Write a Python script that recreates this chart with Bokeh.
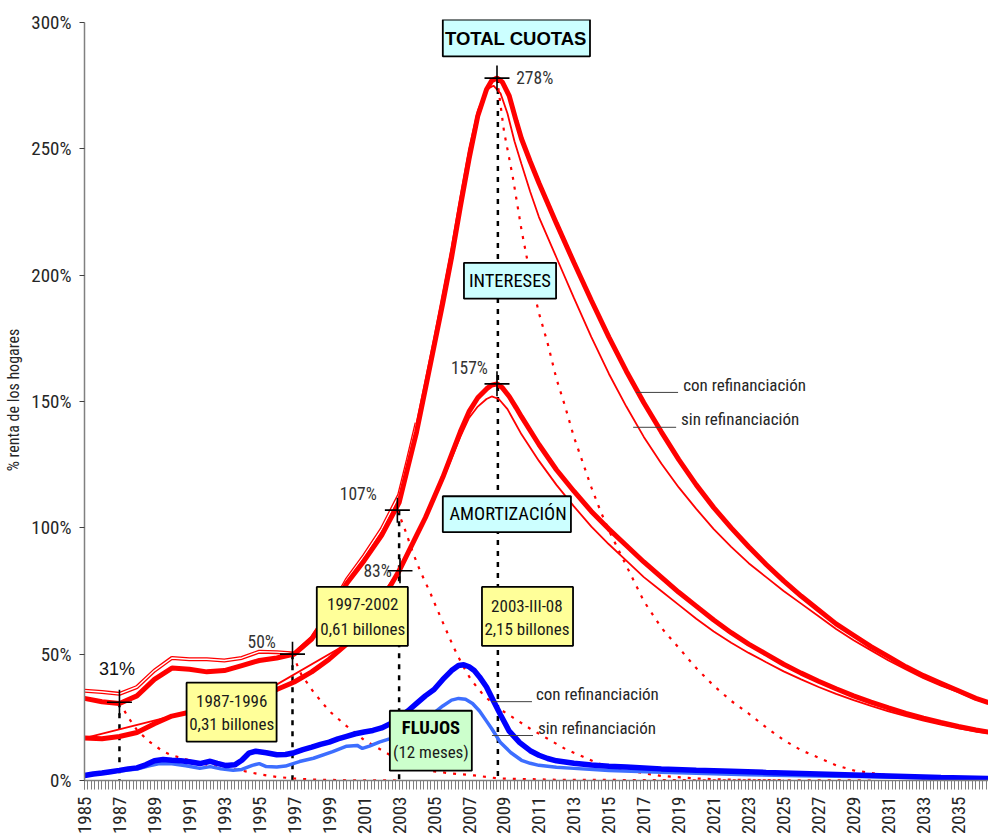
import math
from bokeh.plotting import figure
from bokeh.models import Range1d, FixedTicker
from bokeh.core.properties import value
from bokeh.embed import file_html
from bokeh.resources import INLINE

# ---------------- data ----------------
# Total cuotas, con refinanciación (thick upper red)
tot_con_x = [1985, 1986, 1987, 1988, 1989, 1990, 1991, 1992, 1993, 1994, 1995, 1996, 1997, 1998, 1999,
             2000, 2001, 2002, 2003, 2003.5, 2004, 2004.5, 2005, 2005.5, 2006, 2006.5, 2007, 2007.5,
             2008, 2008.3, 2008.6, 2008.9, 2009.3, 2009.7, 2010, 2010.5, 2011, 2011.5, 2012, 2013, 2014,
             2015, 2016, 2017, 2018, 2019, 2020, 2021, 2022, 2023, 2024, 2025, 2026, 2027, 2028, 2029,
             2030, 2031, 2032, 2033, 2034, 2035, 2036, 2036.72]
tot_con_y = [32.5, 31.2, 30.5, 33.5, 40, 44.5, 44, 43, 43.5, 45.5, 47.5, 48.5, 50, 56, 66,
             78, 87, 97, 110, 124, 138, 155, 172, 189, 207, 227, 246, 263,
             273.5, 277, 278, 276.5, 271, 261, 254, 245, 236.5, 228.5, 220.5, 205, 190,
             175.5, 162, 149.5, 138, 127, 117, 108, 100, 92.5, 85.5, 79, 73, 67.5, 62, 57.5,
             53, 49, 45, 41.5, 38.5, 35.5, 32.5, 30.8]

# Total cuotas, sin refinanciación (thin upper red)
tot_sin_x = [1985, 1986, 1987, 1988, 1989, 1990, 1991, 1992, 1993, 1994, 1995, 1996, 1997, 1998, 1999,
             2000, 2001, 2002, 2003, 2003.5, 2004, 2004.5, 2005, 2005.5, 2006, 2006.5, 2007, 2007.5,
             2008, 2008.4, 2008.8, 2009.2, 2009.6, 2010, 2010.5, 2011, 2012, 2013, 2014, 2015, 2016, 2017, 2018,
             2019, 2020, 2021, 2022, 2023, 2024, 2025, 2026, 2027, 2028, 2029, 2030, 2031, 2032, 2033,
             2034, 2035, 2036, 2036.72]
tot_sin_y = [35.5, 35, 34.3, 37, 43.5, 48.5, 48, 48, 47.5, 48.5, 51, 50.8, 50.3, 56.5, 67,
             79.5, 89, 99.5, 113, 127, 141.5, 158, 175, 193, 211, 231, 250, 265,
             273.5, 275, 272, 264, 253, 244, 233, 223, 207, 191, 175.5, 161, 148, 136, 125.5,
             116, 107.5, 99.5, 92.5, 86, 80.5, 75, 70, 65, 60, 55.5, 51.5, 47.5, 44, 40.5,
             37.5, 35, 32, 30.5]

# Intereses, con refinanciación (thick lower red)
int_con_x = [1985, 1986, 1987, 1988, 1989, 1990, 1991, 1992, 1993, 1994, 1995, 1996, 1997, 1998, 1999,
             2000, 2001, 2002, 2003, 2003.5, 2004, 2004.5, 2005, 2005.5, 2006, 2006.5, 2007, 2007.5,
             2008, 2008.3, 2008.6, 2008.9, 2009.3, 2009.7, 2010, 2011, 2012, 2013, 2014, 2015, 2016, 2017, 2018,
             2019, 2020, 2021, 2022, 2023, 2024, 2025, 2026, 2027, 2028, 2029, 2030, 2031, 2032, 2033,
             2034, 2035, 2036, 2036.72]
int_con_y = [16.8, 16.5, 17.4, 19, 22.5, 25.5, 27, 28.5, 30, 32, 34, 36, 39, 43, 48,
             54, 61, 71, 83, 90, 97, 104, 112, 120, 129, 138, 146, 151.5,
             155, 156.5, 157, 155.5, 152, 147.5, 144, 133, 123, 114.5, 106.5, 99.5, 93, 86.5, 80.5,
             74.5, 69, 63.5, 58.5, 54, 50, 46, 42.5, 39.3, 36.3, 33.5, 31, 28.7, 26.6, 24.7,
             23, 21.4, 20, 19.2]

# Intereses, sin refinanciación (thin lower red)
int_sin_x = [1985, 1990, 1995, 2000, 2003, 2004, 2005, 2005.5, 2006, 2006.5, 2007, 2007.5, 2008,
             2008.3, 2008.7, 2009.2, 2009.6, 2010, 2011, 2012, 2013, 2014, 2015, 2016, 2017, 2018, 2019, 2020,
             2021, 2022, 2023, 2024, 2025, 2026, 2027, 2028, 2029, 2030, 2031, 2032, 2033, 2034,
             2035, 2036, 2036.72]
int_sin_y = [16.8, 25.5, 34, 54, 83, 97, 111.5, 119, 127.5, 136, 143.5, 148, 151,
             152, 151, 147, 142, 137, 126.5, 117, 108.5, 100.5, 93.5, 87, 80.5, 75, 69.5, 64,
             59, 54.5, 50.5, 46.8, 43.2, 40, 37, 34.3, 31.8, 29.5, 27.4, 25.5, 23.7, 22.1,
             20.6, 19.4, 18.7]

# Flujos (12 meses), con refinanciación (dark blue)
flu_con_x = [1985, 1985.5, 1986, 1986.5, 1987, 1987.5, 1988, 1988.5, 1989, 1989.5, 1990, 1990.5, 1991,
             1991.6, 1992.2, 1992.6, 1993.1, 1993.6, 1994, 1994.4, 1994.8, 1995.4, 1996, 1996.5, 1997,
             1997.5, 1998, 1998.5, 1999, 1999.5, 2000, 2000.5, 2001, 2001.5, 2002, 2002.5, 2003, 2003.5,
             2004, 2004.5, 2005, 2005.5, 2006, 2006.4, 2006.7, 2007, 2007.3, 2007.6, 2008, 2008.4,
             2008.8, 2009.3, 2009.9, 2010.5, 2011, 2011.5, 2012, 2013, 2014, 2015, 2016, 2018, 2020,
             2022, 2024, 2026, 2028, 2030, 2032, 2034, 2036.72]
flu_con_y = [2, 2.6, 3, 3.5, 4, 4.6, 5, 6.2, 7.8, 8.3, 8, 7.8, 7.4,
             6.7, 7.6, 6.8, 5.9, 6.2, 8, 10.8, 11.6, 11, 10.2, 10.3, 11,
             12.2, 13.2, 14.3, 15.2, 16.5, 17.5, 18.5, 19.2, 19.8, 20.8, 22.5, 25, 27.5,
             30.5, 33.5, 36, 40, 43.5, 45.5, 45.8, 45, 43.5, 41, 37, 31.5,
             26, 19.5, 15, 11.8, 10, 8.7, 7.8, 6.8, 6.1, 5.6, 5.3, 4.6, 4.1,
             3.7, 3.2, 2.8, 2.4, 2, 1.6, 1.2, 0.8]

# Flujos (12 meses), sin refinanciación (light blue)
flu_sin_x = [1985, 1986, 1987, 1988, 1988.7, 1989.3, 1990, 1990.8, 1991.6, 1992.2, 1992.8, 1993.5,
             1994, 1994.6, 1995, 1995.4, 1996, 1996.5, 1997.3, 1998.1, 1999.2, 2000, 2000.6, 2000.9,
             2001.3, 2001.9, 2002.5, 2003, 2003.5, 2004, 2004.5, 2005, 2005.5, 2006, 2006.4, 2006.8,
             2007.2, 2007.6, 2008, 2008.3, 2008.8, 2009.4, 2010, 2010.5, 2011, 2012, 2013, 2015,
             2018, 2020, 2023, 2026, 2030, 2033, 2036.72]
flu_sin_y = [2, 2.9, 3.8, 4.5, 5.8, 6.7, 6.6, 5.8, 4.8, 5.5, 4.6, 4.1,
             4.4, 6, 6.7, 5.5, 5.3, 5.7, 7.5, 8.8, 11.4, 13.6, 13.9, 12.7,
             13.6, 15.3, 16.6, 18, 20, 22, 24.3, 26.8, 29.5, 31.8, 32.5, 32.2,
             30.5, 27.5, 23.5, 20.5, 15, 11, 8, 6.8, 6, 5.2, 4.8, 4,
             3.3, 2.9, 2.3, 1.9, 1.5, 1.1, 0.8]

# Dotted decay curves
decA_x = [1987, 1987.5, 1988, 1988.7, 1989.5, 1990, 1991, 1992, 1993, 1994, 1995, 1996, 1997, 1998, 2000, 2003]
decA_y = [31, 25, 20, 15.4, 11.5, 10, 8, 6.3, 5, 3.9, 2.5, 1.4, 0.8, 0.4, 0.1, 0]
decB_x = [1996.9, 1997.4, 1998.1, 1999, 2000, 2001, 2002, 2003, 2004, 2005, 2006, 2007.3, 2008.7, 2012, 2020, 2025]
decB_y = [50, 42, 35, 27.5, 21.5, 16, 12, 8, 5, 3.6, 2.8, 2, 0.8, 0.3, 0.1, 0]
decC_x = [2002.9, 2003.3, 2003.8, 2004.2, 2004.8, 2005.1, 2005.6, 2006.1, 2006.6, 2007.1, 2007.8, 2008.6,
          2009.5, 2010.5, 2011.5, 2012.5, 2013.5, 2014.3, 2015, 2016, 2018, 2020, 2022, 2025, 2030]
decC_y = [107, 100, 90, 83, 74, 69, 61, 53, 46, 40, 34, 29,
          25, 20.5, 16.5, 12.5, 9.5, 7, 5.5, 4, 1.8, 0.8, 0.3, 0.1, 0]
decD_x = [2008.6, 2009, 2009.5, 2010, 2010.5, 2011, 2011.5, 2012, 2012.5, 2013, 2013.5, 2014, 2014.5,
          2015, 2015.5, 2016, 2017, 2018, 2019, 2020, 2021, 2022, 2023, 2024, 2025, 2026, 2027,
          2028, 2029, 2030, 2031, 2032, 2033, 2034, 2036.72]
decD_y = [278, 257, 239, 218, 200, 185, 173, 159, 148, 136, 126, 116, 107,
          99, 92, 85, 71, 60.5, 52.5, 44.5, 37.5, 31.5, 26.5, 21, 16, 12, 9,
          6, 4, 3, 2, 1.3, 0.8, 0.5, 0.1]

# Marked points
mark_x = [1987, 1996.9, 2002.9, 2003.05, 2008.6, 2008.6]
mark_y = [31, 50, 107, 83, 278, 157]
mark_txt = ["31%", "50%", "107%", "83%", "278%", "157%"]

# Axis ticks
x_ticks = list(range(1985, 2036, 2))
x_tick_labels = [str(t) for t in x_ticks]
y_ticks = [0, 50, 100, 150, 200, 250, 300]
y_tick_labels = ["0%", "50%", "100%", "150%", "200%", "250%", "300%"]

NARROW = "Roboto Condensed, Liberation Sans, sans-serif"
WIDE = "Liberation Sans, Arial, sans-serif"
NS = "17px"
CAPS = "18.5px"
TICKS = "19px"
RED = "#FF0000"
DBLUE = "#0000FF"
LBLUE = "#3D6EFF"

p = figure(width=988, height=837,
           x_range=Range1d(1985, 2036.72), y_range=Range1d(0, 301.2),
           output_backend="svg", toolbar_location=None,
           min_border_left=84, min_border_right=0, min_border_top=19, min_border_bottom=55)
p.outline_line_color = None
p.xgrid.visible = False
p.ygrid.visible = False
p.background_fill_color = "white"
p.border_fill_color = "white"

# axes
p.yaxis.ticker = FixedTicker(ticks=y_ticks)
p.yaxis.major_label_overrides = dict(zip(y_ticks, y_tick_labels))
p.yaxis.bounds = (0, 300)
p.yaxis.axis_line_color = "#808080"
p.yaxis.axis_line_width = 1.5
p.yaxis.major_tick_line_color = "#404040"
p.yaxis.major_tick_out = 5
p.yaxis.major_tick_in = 0
p.yaxis.minor_tick_line_color = None
p.yaxis.major_label_text_font = NARROW
p.yaxis.major_label_text_font_size = TICKS
p.yaxis.major_label_text_color = "#262626"
p.yaxis.major_label_standoff = 8
p.yaxis.axis_label = "% renta de los hogares"
p.yaxis.axis_label_text_font = NARROW
p.yaxis.axis_label_text_font_size = "16px"
p.yaxis.axis_label_text_font_style = "normal"
p.yaxis.axis_label_text_color = "#262626"
p.yaxis.axis_label_standoff = 5

minor = [1985 + i * 0.2 for i in range(0, 259)]
p.xaxis.ticker = FixedTicker(ticks=x_ticks, minor_ticks=minor)
p.xaxis.major_label_overrides = dict(zip(x_ticks, x_tick_labels))
p.xaxis.major_label_orientation = math.pi / 2
p.xaxis.axis_line_color = "#808080"
p.xaxis.axis_line_width = 1.5
p.xaxis.major_tick_line_color = "#808080"
p.xaxis.minor_tick_line_color = "#808080"
p.xaxis.major_tick_out = 9
p.xaxis.major_tick_in = 0
p.xaxis.minor_tick_out = 9
p.xaxis.minor_tick_in = 0
p.xaxis.major_label_text_font = NARROW
p.xaxis.major_label_text_font_size = TICKS
p.xaxis.major_label_text_color = "#262626"
p.xaxis.major_label_standoff = 7

# vertical dotted black reference lines
p.segment(x0=[mark_x[0], mark_x[1], 2003.0, 2008.65], y0=[mark_y[0], mark_y[1], mark_y[2], mark_y[4]],
          x1=[mark_x[0], mark_x[1], 2003.0, 2008.65], y1=[0, 0, 0, 0],
          line_color="black", line_width=2.5, line_dash="5 6")

# dotted decay curves
for xs, ys in [(decA_x, decA_y), (decB_x, decB_y), (decC_x, decC_y), (decD_x, decD_y)]:
    p.line(xs, ys, line_color=RED, line_width=2.2, line_dash="3 7")

# flujos
p.line(flu_sin_x, flu_sin_y, line_color=LBLUE, line_width=3.5)
p.line(flu_con_x, flu_con_y, line_color=DBLUE, line_width=5.5)

# red curves
n_early = tot_sin_x.index(2004)
p.line(tot_sin_x[:n_early + 1], tot_sin_y[:n_early + 1], line_color=RED, line_width=4)
p.line(tot_sin_x[:n_early + 1], tot_sin_y[:n_early + 1], line_color="white", line_width=1.4)
p.line(tot_sin_x[n_early:], tot_sin_y[n_early:], line_color=RED, line_width=1.8)
p.line(int_sin_x, int_sin_y, line_color=RED, line_width=1.8)
p.line(tot_con_x, tot_con_y, line_color=RED, line_width=5)
p.line(int_con_x, int_con_y, line_color=RED, line_width=5)

# crosses
p.scatter(mark_x, mark_y, marker="cross", size=25, line_color="black", line_width=1.6)

# value labels
p.text([1986.86], [44.2], text=[mark_txt[0]], text_font=value(WIDE), text_font_size="18px",
       text_color="#111111", text_align="center", text_baseline="middle")
p.text([1995.14], [54.9], text=[mark_txt[1]], text_font=value(NARROW), text_font_size="17.5px",
       text_color="#333333", text_align="center", text_baseline="middle")
p.text([2001.72, 2002.58, 2008.08], [113.3, 82.9, 163.4], text=[mark_txt[2], mark_txt[3], mark_txt[5]],
       text_font=value(NARROW), text_font_size="17.5px",
       text_color="#333333", text_align="right", text_baseline="middle")
p.text([2009.7], [278], text=[mark_txt[4]], text_font=value(NARROW), text_font_size="17.5px",
       text_color="#333333", text_align="left", text_baseline="middle")

# legend-like leader lines and texts
p.segment(x0=[2016.56, 2016.39, 2008.31, 2008.31], y0=[153.6, 139.8, 31.2, 17.8],
          x1=[2018.96, 2018.85, 2010.6, 2010.66], y1=[153.6, 139.8, 31.2, 17.8],
          line_color="#404040", line_width=1)
p.text([2019.25, 2019.13, 2010.83, 2010.94], [156.7, 142.9, 34.3, 20.9],
       text=["con refinanciación", "sin refinanciación", "con refinanciación", "sin refinanciación"],
       text_font=value(NARROW), text_font_size=NS, text_color="#262626",
       text_align="left", text_baseline="middle")

# boxes
box_left = [2005.50, 2006.71, 2005.50, 1998.29, 1990.84, 2007.74, 2002.47]
box_right = [2013.92, 2011.98, 2012.83, 2003.50, 1995.99, 2012.95, 2007.16]
box_top = [301.2, 204.9, 112.5, 76.6, 38.7, 76.6, 27.6]
box_bottom = [286.6, 190.7, 98.3, 53.3, 15.4, 53.3, 3.9]
box_fill = ["#CCFFFF", "#CCFFFF", "#CCFFFF", "#FFFF99", "#FFFF99", "#FFFF99", "#CCFFCC"]
p.quad(left=box_left, right=box_right, top=box_top, bottom=box_bottom,
       fill_color=box_fill, line_color="black", line_width=1.8)

p.text([2009.68], [293.7], text=["TOTAL CUOTAS"], text_font=value(WIDE), text_font_size="18.5px",
       text_font_style="bold", text_color="black", text_align="center", text_baseline="middle")
p.text([2009.34, 2009.23], [197.8, 105.4], text=["INTERESES", "AMORTIZACIÓN"],
       text_font=value(NARROW), text_font_size=CAPS, text_color="black",
       text_align="center", text_baseline="middle")
p.text([2000.92, 2000.92, 1993.42, 1993.42, 2010.31, 2010.31],
       [69.9, 60.0, 31.6, 22.5, 69.1, 60.0],
       text=["1997-2002", "0,61 billones", "1987-1996", "0,31 billones", "2003-III-08", "2,15 billones"],
       text_font=value(NARROW), text_font_size=NS, text_color="#1a1a1a",
       text_align="center", text_baseline="middle")
p.text([2004.82], [20.9], text=["FLUJOS"], text_font=value(NARROW), text_font_size=CAPS,
       text_font_style="bold", text_color="black", text_align="center", text_baseline="middle")
p.text([2004.82], [11.1], text=["(12 meses)"], text_font=value(NARROW), text_font_size=NS,
       text_color="#1a1a1a", text_align="center", text_baseline="middle")

open("out.html", "w").write(file_html(p, INLINE))
